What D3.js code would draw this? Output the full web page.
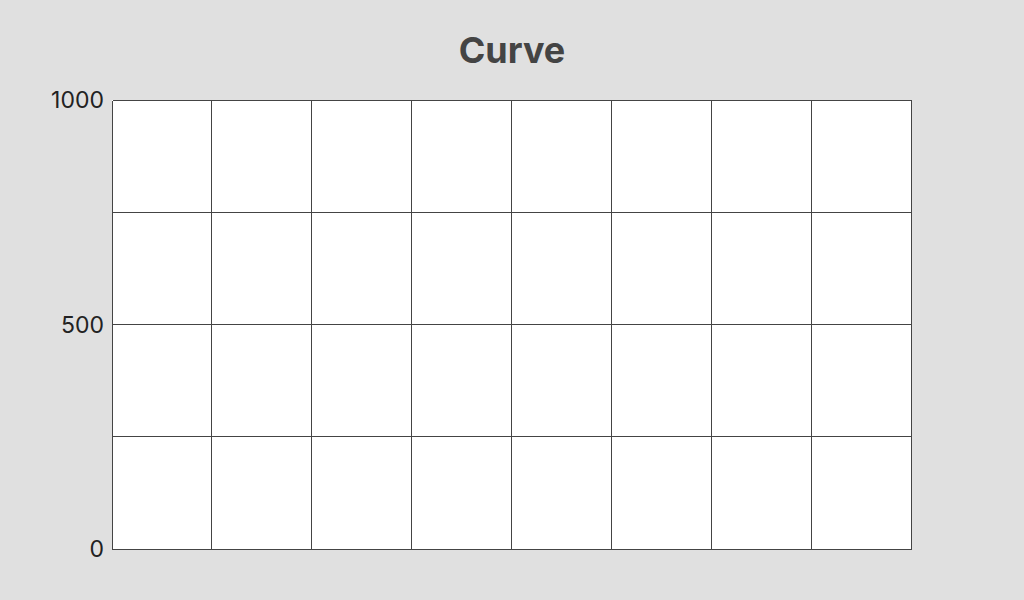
<!DOCTYPE html>
<html>
<head>
<meta charset="utf-8">
<script src="https://cdn.jsdelivr.net/npm/d3@7"></script>
<style>
html,body{margin:0;padding:0;background:#e0e0e0;}
svg{display:block;}
</style>
</head>
<body>
<svg id="chart" width="1024" height="600"></svg>
<script>
const title = "Curve";
const xDomain = [0, 8];
const yDomain = [0, 1000];
const xGridTicks = [0, 1, 2, 3, 4, 5, 6, 7, 8];
const yGridTicks = [0, 250, 500, 750, 1000];
const yTickLabels = [0, 500, 1000];
const curveX = [];
const curveY = [];

const svg = d3.select("#chart");
const x = d3.scaleLinear().domain(xDomain).range([112, 911]);
const y = d3.scaleLinear().domain(yDomain).range([549, 100]);

svg.append("text")
  .attr("x", 512).attr("y", 63)
  .attr("text-anchor", "middle")
  .attr("font-family", "Inter, 'Noto Sans', sans-serif")
  .attr("font-weight", "bold")
  .attr("font-size", 36)
  .attr("fill", "#444")
  .text(title);

svg.append("rect")
  .attr("x", x(xDomain[0])).attr("y", y(yDomain[1]))
  .attr("width", x(xDomain[1]) - x(xDomain[0]))
  .attr("height", y(yDomain[0]) - y(yDomain[1]))
  .attr("fill", "#fff");

const px = v => Math.floor(v) + 0.5;
const g = svg.append("g").attr("shape-rendering", "crispEdges");
g.selectAll("line.v").data(xGridTicks).join("line")
  .attr("class", "v")
  .attr("x1", d => px(x(d))).attr("x2", d => px(x(d)))
  .attr("y1", px(y(yDomain[1]))).attr("y2", px(y(yDomain[0])))
  .attr("stroke", "#444").attr("stroke-width", 1);
g.selectAll("line.h").data(yGridTicks).join("line")
  .attr("class", "h")
  .attr("y1", d => px(y(d))).attr("y2", d => px(y(d)))
  .attr("x1", px(x(xDomain[0]))).attr("x2", px(x(xDomain[1])))
  .attr("stroke", "#444").attr("stroke-width", 1);

svg.selectAll("text.yl").data(yTickLabels).join("text")
  .attr("class", "yl")
  .attr("x", 104).attr("y", d => y(d) + 8)
  .attr("text-anchor", "end")
  .attr("font-family", "Inter, 'Noto Sans', sans-serif")
  .attr("font-size", 23)
  .attr("fill", "#222")
  .text(d => d);

const line = d3.line().x(d => x(d[0])).y(d => y(d[1]));
svg.append("path")
  .datum(curveX.map((v, i) => [v, curveY[i]]))
  .attr("d", line)
  .attr("fill", "none")
  .attr("stroke", "#444");
</script>
</body>
</html>
